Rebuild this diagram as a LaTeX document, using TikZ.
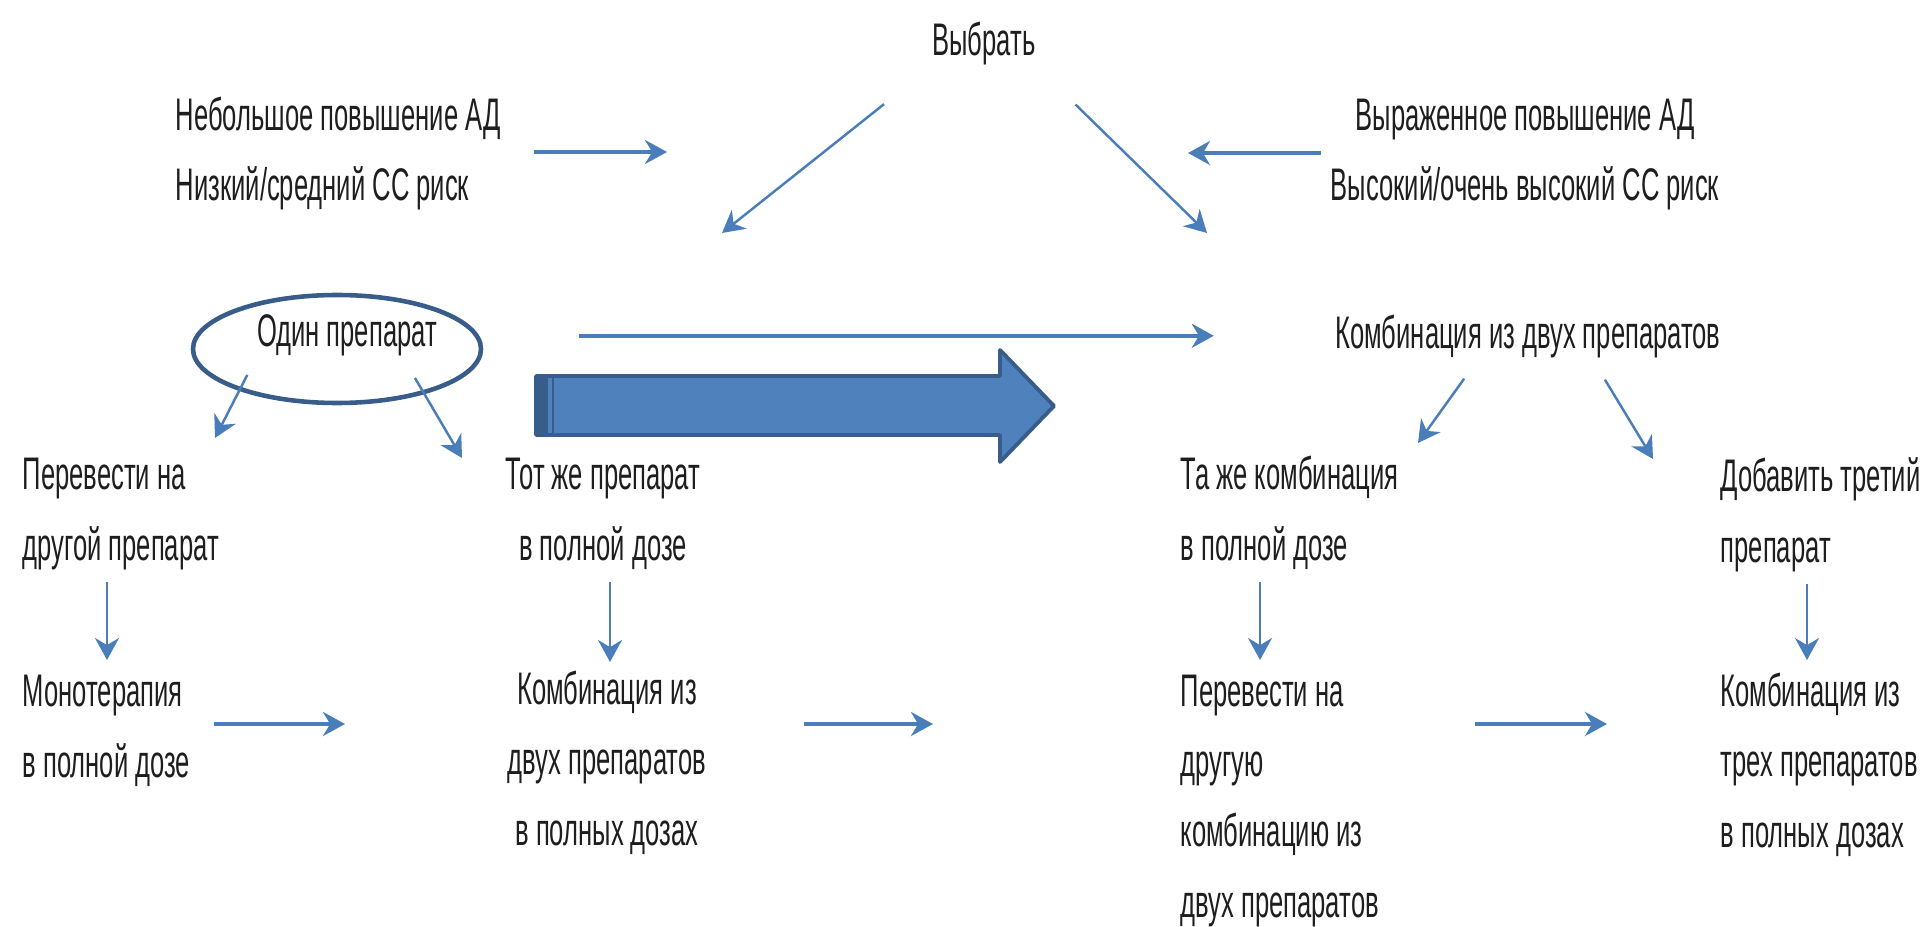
\documentclass[tikz,border=0pt]{standalone}
\usepackage{fontspec}
\setmainfont[FakeStretch=0.56]{Liberation Sans}
\usepackage{tikz}
\usetikzlibrary{arrows.meta, shapes.geometric, positioning, calc}
\usepackage{xcolor}
\definecolor{schemeBlue} {HTML}{4A7EBB}
\definecolor{schemeDark} {HTML}{385D8A}
\definecolor{schemeFill} {HTML}{4F81BD}
\definecolor{schemeText} {HTML}{1E1E1E}
\tikzset{
  lbl/.style   = {inner sep=0pt, text=schemeText,
                  font=\fontsize{13}{20}\selectfont},
  arr/.style   = {-{Stealth[length=2.2mm, width=2.4mm]}, line width=1.1pt,
                  color=schemeBlue},
  arrThin/.style = {-{Stealth[length=2.2mm, width=2.4mm]}, line width=0.7pt,
                  color=schemeBlue},
  ring/.style  = {ellipse, draw=schemeDark, line width=1.3pt,
                  minimum width=2.88cm, minimum height=1.08cm},
}

\begin{document}
\begin{tikzpicture}[
  bigarrow/.style={fill=schemeFill, draw=schemeDark, line width=1.1pt,
                   line join=round},
]
\clip (0,0) rectangle (19.2,-9.27);

\node[lbl, anchor=base] (vybrat) at (9.84,-0.56) {Выбрать};
\node[lbl, anchor=base west, align=left] (mild) at (1.75,-2.01)
  {Небольшое повышение АД\\Низкий/средний СС риск};
\node[lbl, anchor=base, align=center] (severe) at (15.25,-2.01)
  {Выраженное повышение АД\\Высокий/очень высокий СС риск};
\node[lbl, anchor=base] (one) at (3.47,-3.47) {Один препарат};
\node[ring] (oneRing) at (3.37,-3.49) {};
\node[lbl, anchor=base] (combo2) at (15.28,-3.49) {Комбинация из двух препаратов};
\node[lbl, anchor=base west, align=left] (switch1) at (0.22,-5.60)
  {Перевести на\\другой препарат};
\node[lbl, anchor=base, align=center] (same1) at (6.03,-5.60)
  {Тот же препарат\\в полной дозе};
\node[lbl, anchor=base west, align=left] (samecomb) at (11.80,-5.60)
  {Та же комбинация\\в полной дозе};
\node[lbl, anchor=base west, align=left] (third) at (17.20,-5.62)
  {Добавить третий\\препарат};
\node[lbl, anchor=base west, align=left] (mono) at (0.22,-7.77)
  {Монотерапия\\в полной дозе};
\node[lbl, anchor=base, align=center] (combfull) at (6.07,-8.45)
  {Комбинация из\\двух препаратов\\в полных дозах};
\node[lbl, anchor=base west, align=left] (switch2) at (11.80,-9.17)
  {Перевести на\\другую\\комбинацию из\\двух препаратов};
\node[lbl, anchor=base west, align=left] (combo3) at (17.20,-8.47)
  {Комбинация из\\трех препаратов\\в полных дозах};

% free arrow tips
\coordinate (tipL)  at (6.67,-1.52);
\coordinate (tipS)  at (11.88,-1.53);
\coordinate (tipV1) at (7.22,-2.33);
\coordinate (tipV2) at (12.07,-2.33);
\coordinate (tipO1) at (2.15,-4.38);
\coordinate (tipO2) at (4.62,-4.58);
\coordinate (tipH)  at (14.18,-4.43);
\coordinate (tipI)  at (16.53,-4.59);
\coordinate (tipA)  at (1.07,-6.60);
\coordinate (tipB)  at (6.10,-6.62);
\coordinate (tipC)  at (12.60,-6.60);
\coordinate (tipD)  at (18.07,-6.60);
\coordinate (tipE)  at (3.45,-7.24);
\coordinate (tipF)  at (9.33,-7.24);
\coordinate (tipG)  at (16.07,-7.24);

\draw[arr, shorten <=0.33cm] (mild.east |- tipL) -- (tipL);
\draw[arr, shorten <=0.09cm] (severe.west |- tipS) -- (tipS);
\draw[arrThin, shorten <=0.61cm] (vybrat.south west) -- (tipV1);
\draw[arrThin, shorten <=0.55cm] (vybrat.south east) -- (tipV2);
\draw[arr, shorten <=1.41cm, shorten >=1.21cm] (one.east) -- (one.east -| combo2.west);

% wide arrow
\draw[bigarrow] (5.36,-3.76) -- (10.00,-3.76) -- (10.00,-3.50) -- (10.54,-4.06)
  -- (10.00,-4.62) -- (10.00,-4.35) -- (5.36,-4.35) -- cycle;
\fill[schemeDark] (5.36,-3.76) rectangle (5.48,-4.35);
\draw[schemeDark, line width=0.6pt] (5.53,-3.76) -- (5.53,-4.35);

\draw[arrThin, shorten <=0.2cm] (one.south west) -- (tipO1);
\draw[arrThin, shorten <=0.24cm] (one.-21) -- (tipO2);
\draw[arrThin, shorten <=0.24cm] (combo2.-156) -- (tipH);
\draw[arrThin, shorten <=0.24cm] (combo2.-19) -- (tipI);

\draw[arrThin, shorten <=0.12cm] (switch1.south -| tipA) -- (tipA);
\draw[arrThin, shorten <=0.12cm] (same1.south -| tipB) -- (tipB);
\draw[arrThin, shorten <=0.12cm] (samecomb.south -| tipC) -- (tipC);
\draw[arrThin, shorten <=0.12cm] (third.south -| tipD) -- (tipD);

\draw[arr, shorten <=0.23cm] (mono.east |- tipE) -- (tipE);
\draw[arr, shorten <=0.97cm] (combfull.east |- tipF) -- (tipF);
\draw[arr, shorten <=0.95cm] (switch2.east |- tipG) -- (tipG);

\end{tikzpicture}
\end{document}
